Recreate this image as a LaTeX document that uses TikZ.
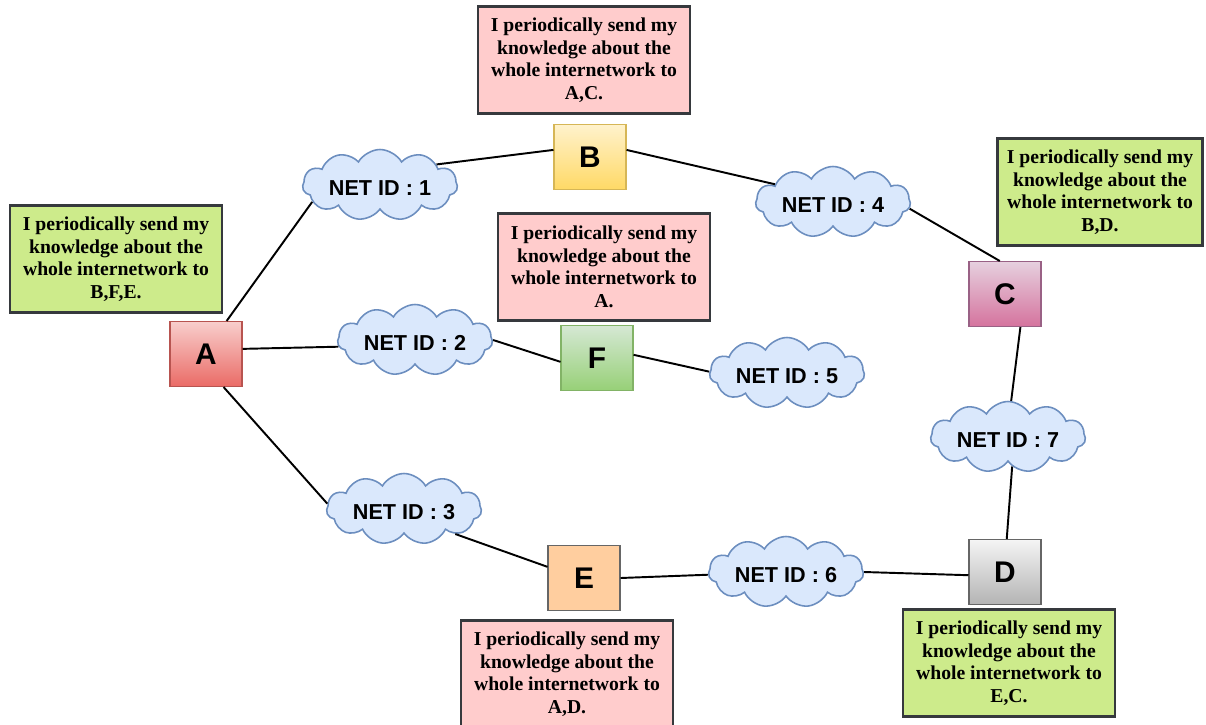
\documentclass[tikz,border=0pt]{standalone}
\usepackage{fontspec}
\setmainfont{Liberation Serif}
\setsansfont{Liberation Sans}
\usetikzlibrary{shapes.symbols}
\definecolor{netfill}{HTML}{DAE8FC}
\definecolor{netdraw}{HTML}{6C8EBF}
\definecolor{notepink}{HTML}{FFCCCC}
\definecolor{notegreen}{HTML}{CDEB8B}
\definecolor{notedraw}{HTML}{36393D}
\definecolor{aTop}{HTML}{F8CECC}
\definecolor{aBot}{HTML}{EA6B66}
\definecolor{aLine}{HTML}{B85450}
\definecolor{bTop}{HTML}{FFF2CC}
\definecolor{bBot}{HTML}{FFD966}
\definecolor{bLine}{HTML}{D6B656}
\definecolor{cTop}{HTML}{E6D0DE}
\definecolor{cBot}{HTML}{D5739D}
\definecolor{cLine}{HTML}{996185}
\definecolor{dTop}{HTML}{F5F5F5}
\definecolor{dBot}{HTML}{B3B3B3}
\definecolor{dLine}{HTML}{666666}
\definecolor{eFill}{HTML}{FFCE9F}
\definecolor{fTop}{HTML}{D5E8D4}
\definecolor{fBot}{HTML}{97D077}
\definecolor{fLine}{HTML}{82B366}
\newcommand{\netlabel}[1]{\makebox[0pt]{\raisebox{-3.2pt}{#1}}}
\tikzset{
  router/.style={draw, line width=0.6pt, minimum width=1.44cm, minimum height=1.3cm,
    inner sep=0pt, font=\sffamily\bfseries\fontsize{17}{17}\selectfont},
  % cloud size is fixed by the minimum sizes; the label is set in a zero-width box
  net/.style={cloud, cloud puffs=11, cloud puff arc=120, aspect=2.2, draw=netdraw, fill=netfill,
    line width=0.9pt, minimum width=3.1cm, minimum height=1.42cm, inner sep=0pt,
    text height=1.2ex, text depth=0pt,
    font=\sffamily\bfseries\fontsize{12.3}{12.3}\selectfont},
  note/.style={draw=notedraw, line width=1.3pt, align=center,
    minimum width=4.24cm, minimum height=2.14cm, inner sep=2pt,
    font=\bfseries\fontsize{11.2}{12.8}\selectfont},
  link/.style={line width=1.1pt, black}
}
\begin{document}
\begin{tikzpicture}[x=0.02cm, y=-0.02cm]
\useasboundingbox (0,0) rectangle (1206,724);

% routers
\node[router, draw=aLine, top color=aTop, bottom color=aBot] (A) at (206,354) {A};
\node[router, draw=bLine, top color=bTop, bottom color=bBot] (B) at (590,157) {B};
\node[router, draw=cLine, top color=cTop, bottom color=cBot] (C) at (1005,294) {C};
\node[router, draw=dLine, top color=dTop, bottom color=dBot] (D) at (1005,572) {D};
\node[router, draw=dLine, fill=eFill] (E) at (584,578) {E};
\node[router, draw=fLine, top color=fTop, bottom color=fBot] (F) at (597,358) {F};

% networks
\node[net] (n1) at (380,185) {\netlabel{NET ID : 1}};
\node[net] (n2) at (415,340) {\netlabel{NET ID : 2}};
\node[net] (n3) at (404,509) {\netlabel{NET ID : 3}};
\node[net] (n4) at (833,202) {\netlabel{NET ID : 4}};
\node[net] (n5) at (787,373) {\netlabel{NET ID : 5}};
\node[net] (n6) at (786,572) {\netlabel{NET ID : 6}};
\node[net] (n7) at (1008,437) {\netlabel{NET ID : 7}};

% links
\draw[link] (A.58) -- (n1.194);
\draw[link] (n1.20) -- (B.169);
\draw[link] (B.11) -- (n4.163);
\draw[link] (n4.355) -- (C.99);
\draw[link] (A.8) -- (n2.185);
\draw[link] (n2.0) -- (F.186);
\draw[link] (F.5) -- (n5.179);
\draw[link] (A.298) -- (n3.176);
\draw[link] (n3.334) -- (E.163);
\draw[link] (E.0) -- (n6.182);
\draw[link] (n6.0) -- (D.185);
\draw[link] (C.295) -- (n7.85);
\draw[link] (n7.278) -- (D.87);

% notes
\node[note, fill=notepink] (tB) at (584,60) {I periodically send my\\knowledge about the\\whole internetwork to\\A,C.};
\node[note, fill=notegreen] (tA) at (116,259) {I periodically send my\\knowledge about the\\whole internetwork to\\B,F,E.};
\node[note, fill=notegreen, minimum width=4.1cm] (tC) at (1100,192) {I periodically send my\\knowledge about the\\whole internetwork to\\B,D.};
\node[note, fill=notepink] (tF) at (604,267) {I periodically send my\\knowledge about the\\whole internetwork to\\A.};
\node[note, fill=notepink] (tE) at (567,674) {I periodically send my\\knowledge about the\\whole internetwork to\\A,D.};
\node[note, fill=notegreen] (tD) at (1009,663) {I periodically send my\\knowledge about the\\whole internetwork to\\E,C.};
\end{tikzpicture}
\end{document}
